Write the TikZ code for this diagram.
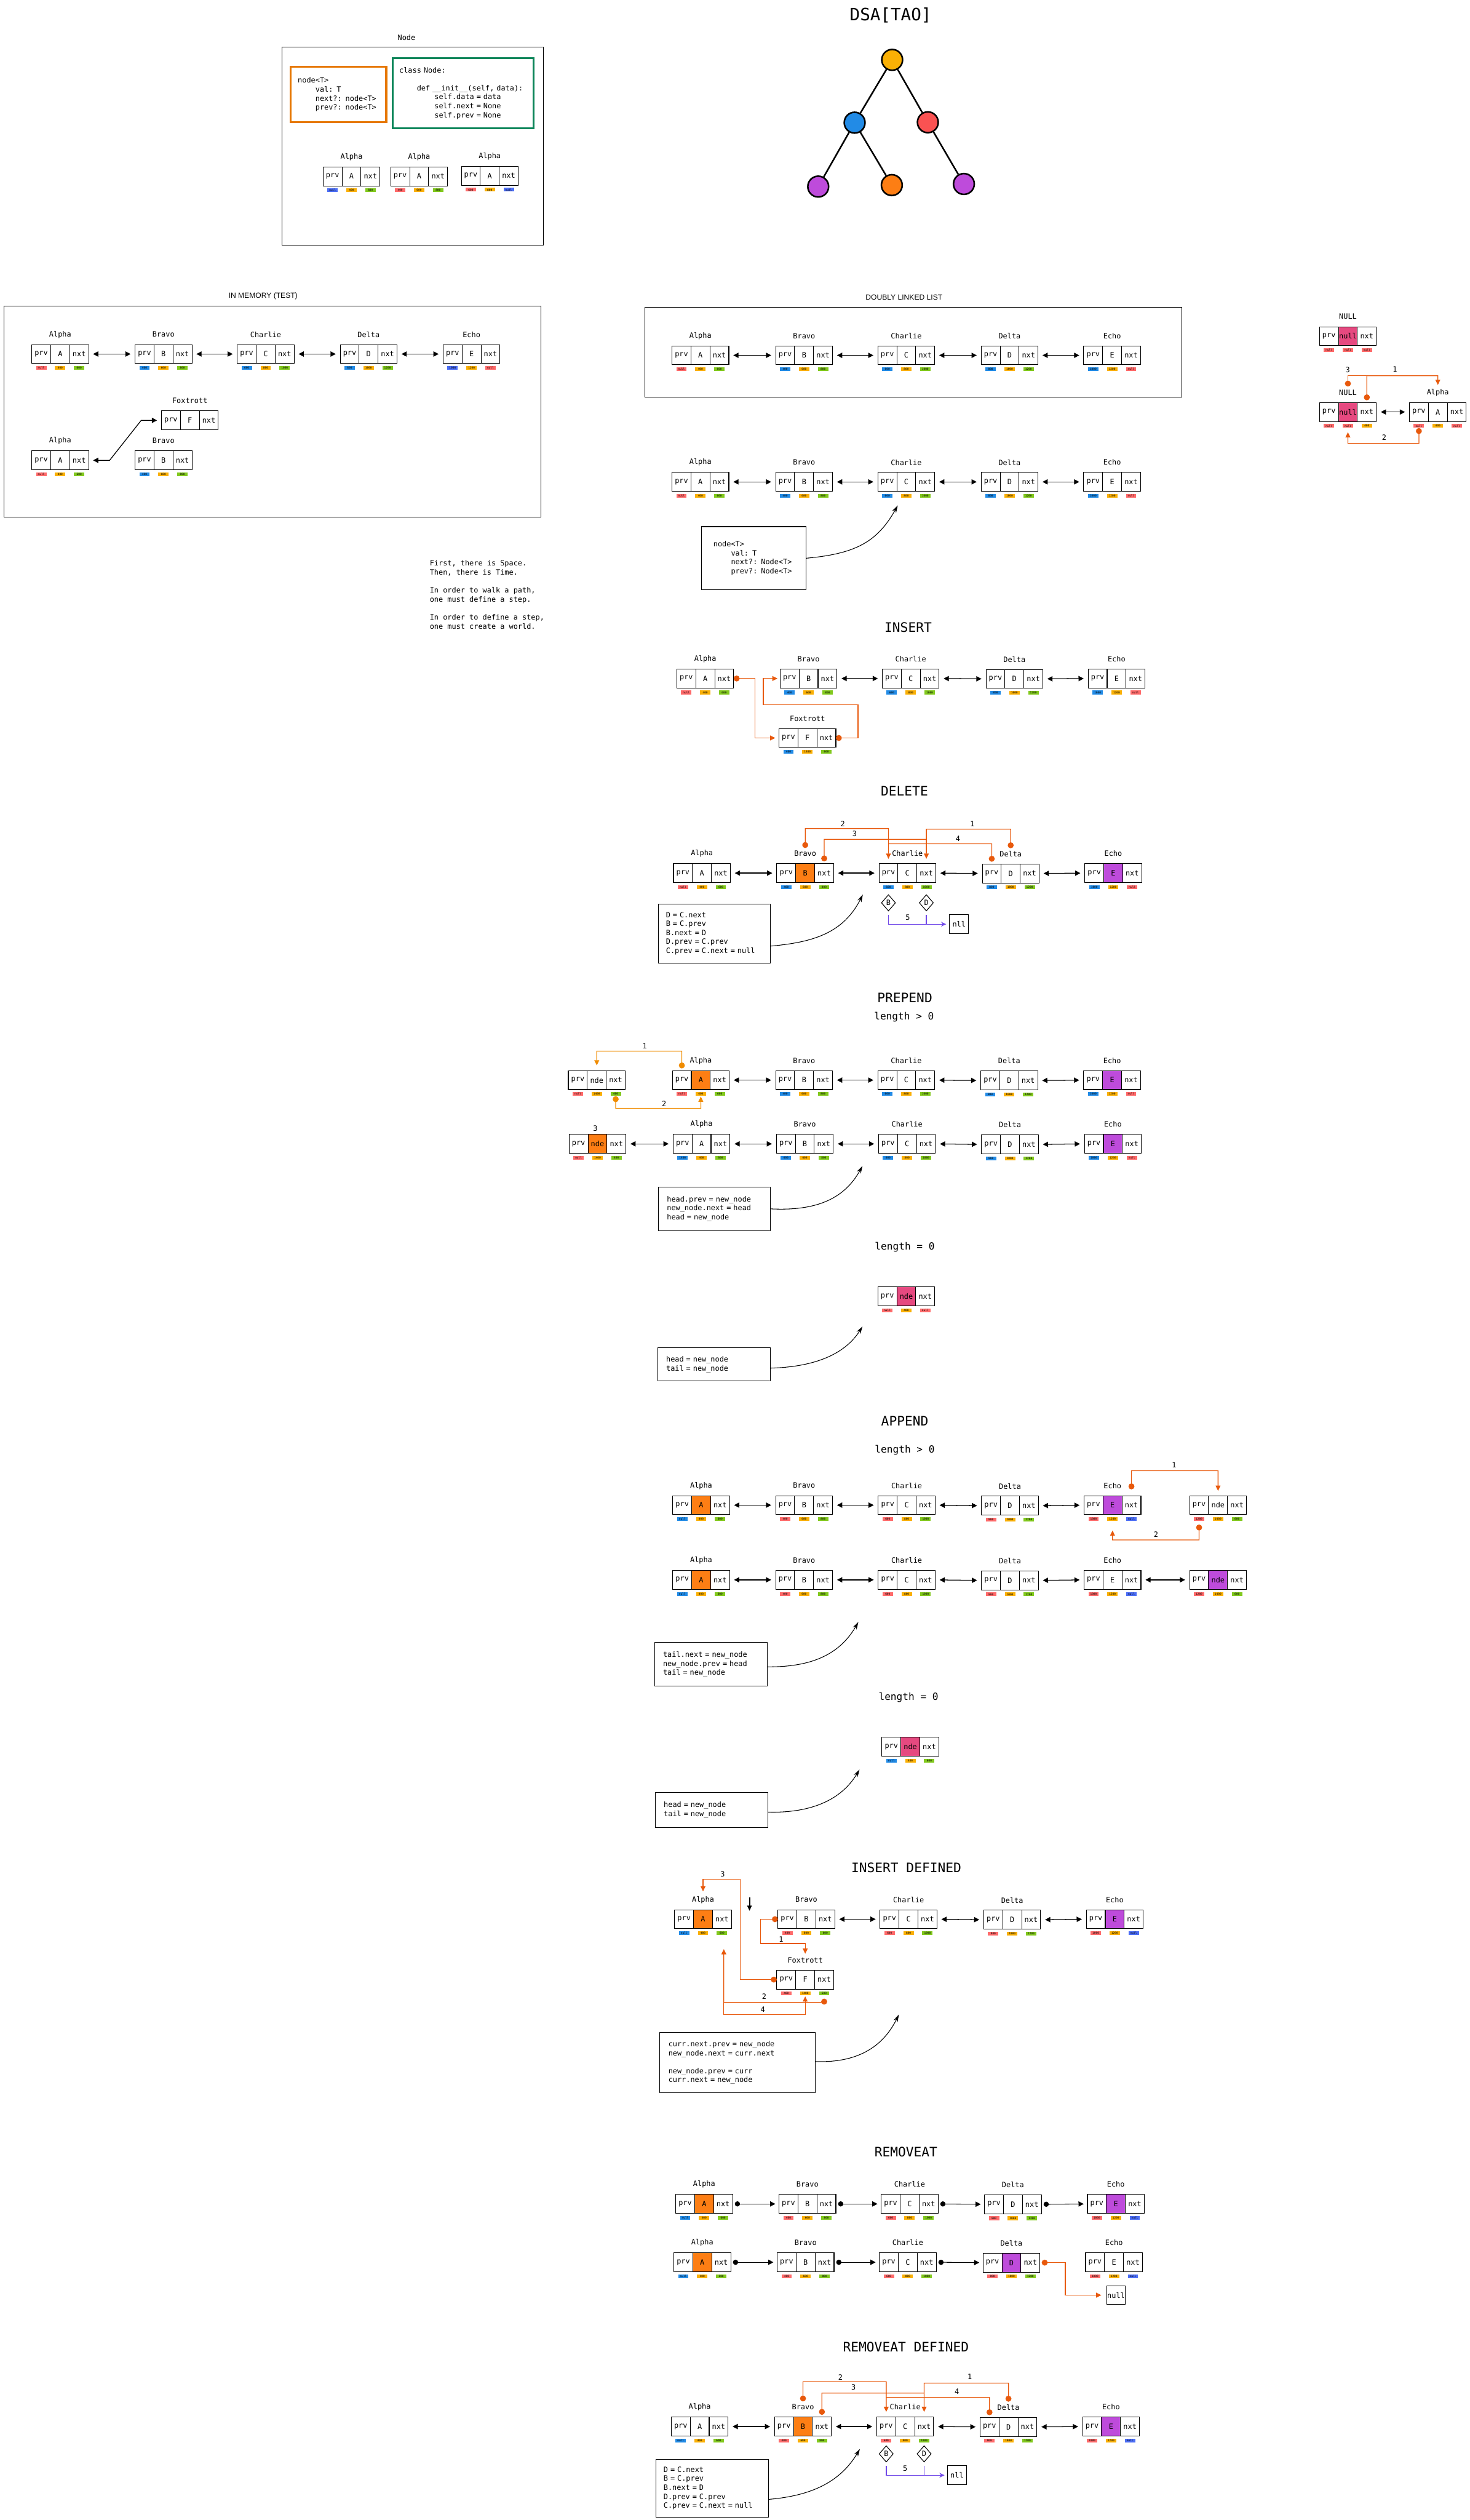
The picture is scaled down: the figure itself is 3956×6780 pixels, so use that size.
\documentclass[tikz,border=0pt]{standalone}
\usepackage{fontspec}
\setmainfont{DejaVu Sans Mono}
\newfontfamily\headsans{Liberation Sans}
\usetikzlibrary{arrows.meta,positioning,shapes.geometric}

\definecolor{tred}{HTML}{FF6B6B}
\definecolor{tyel}{HTML}{FAB005}
\definecolor{tgrn}{HTML}{82C91E}
\definecolor{tsky}{HTML}{228BE6}
\definecolor{tind}{HTML}{4C6EF5}
\definecolor{hlor}{HTML}{FD7E14}
\definecolor{hlpu}{HTML}{BE4BDB}
\definecolor{hlpk}{HTML}{E64980}
\definecolor{linkor}{HTML}{E8590C}
\definecolor{prepor}{HTML}{F08C00}
\definecolor{nullvi}{HTML}{7048E8}
\definecolor{boxor}{HTML}{E67700}
\definecolor{boxgr}{HTML}{0C8559}
\definecolor{treered}{HTML}{FA5252}

\tikzset{
  cell/.style={draw,line width=0.5pt,minimum width=5.1mm,minimum height=5.1mm,inner sep=0pt,outer sep=0pt,font=\fontsize{5.6}{6.7}\selectfont},
  lbl/.style={inner sep=0pt,font=\fontsize{5.6}{6.9}\selectfont},
  tag/.style={inner sep=0pt,minimum width=2.8mm,minimum height=1mm,font=\fontsize{2.1}{2.2}\selectfont},
  sect/.style={inner sep=0pt,font=\fontsize{10}{12}\selectfont},
  sub/.style={inner sep=0pt,font=\fontsize{7.6}{9}\selectfont},
  panel/.style={draw,line width=0.5pt},
  codebox/.style={draw,line width=0.5pt,anchor=north west,align=left,inner ysep=0pt,font=\fontsize{5.6}{6.85}\selectfont},
  dbl/.style={{Triangle[length=1.4mm,width=1.4mm]}-{Triangle[length=1.4mm,width=1.4mm]},line width=0.6pt,shorten <=1.2mm,shorten >=1.2mm},
  ptr/.style={{Circle[length=1.4mm]}-{Triangle[length=1.4mm,width=1.4mm]},line width=0.5pt,shorten <=0.6mm,shorten >=1mm},
  orlink/.style={color=linkor,line width=0.6pt,{Circle[length=1.6mm]}-{Triangle[length=1.4mm,width=1.3mm]}},
  orjoin/.style={color=linkor,line width=0.6pt,{Circle[length=1.6mm]}-},
  orhead/.style={color=linkor,line width=0.6pt,-{Triangle[length=1.4mm,width=1.3mm]}},
  vline/.style={color=nullvi,line width=0.6pt,-{Stealth[length=1.4mm,width=1.3mm]}},
  curvy/.style={line width=0.5pt,-{Stealth[length=2mm,width=1.2mm]}},
  dmd/.style={diamond,draw,line width=0.5pt,inner sep=0.3mm,minimum width=3.4mm,minimum height=4.4mm,font=\fontsize{5.6}{6.7}\selectfont},
  ball/.style={circle,draw,line width=1.2pt,minimum size=5.6mm,inner sep=0pt},
  twig/.style={line width=1.2pt}
}

\newcommand{\dll}[5]{%
  \node[cell,fill=#5] (#1-v) at (#2) {#4};
  \node[cell,left=0pt of #1-v] (#1-p) {prv};
  \node[cell,right=0pt of #1-v] (#1-n) {nxt};
  \if\relax\detokenize{#3}\relax\else
    \node[lbl] (#1-t) at ([yshift=2.7mm]#1-v.north) {#3};
  \fi}
\newcommand{\tags}[7]{%
  \node[tag,fill=#2] (#1-tp) at ([yshift=-1.2mm]#1-p.south) {#3};
  \node[tag,fill=#4] (#1-tv) at ([yshift=-1.2mm]#1-v.south) {#5};
  \node[tag,fill=#6] (#1-tn) at ([yshift=-1.2mm]#1-n.south) {#7};}

\begin{document}
\begin{tikzpicture}[x=0.1mm,y=-0.1mm]
  \useasboundingbox (0,0) rectangle (3956,6780);

  \node[inner sep=0pt,font=\fontsize{13}{15}\selectfont] (dsa) at (2397,41) {DSA[TAO]};
  \node[ball,fill=tyel] (t0) at (2401,161) {};
  \node[ball,fill=tsky] (t1) at (2300,330) {};
  \node[ball,fill=treered] (t2) at (2497,329) {};
  \node[ball,fill=hlpu] (t3) at (2202,502) {};
  \node[ball,fill=hlor] (t4) at (2400,498) {};
  \node[ball,fill=hlpu] (t5) at (2594,495) {};
  \draw[twig] (t0) -- (t1);
  \draw[twig] (t0) -- (t2);
  \draw[twig] (t1) -- (t3);
  \draw[twig] (t1) -- (t4);
  \draw[twig] (t2) -- (t5);

  \node[lbl] (nodeTitle) at (1094,101) {Node};
  \draw[panel] (759,127) rectangle (1462,659);
  \node[codebox,draw=boxor,line width=0.5mm,inner xsep=2mm,text width=21.8mm,minimum height=14.9mm] (tsBox) at (779,177)
    {node<T>\\\phantom{0000}val: T\\\phantom{0000}next?: node<T>\\\phantom{0000}prev?: node<T>};
  \node[codebox,draw=boxgr,line width=0.5mm,inner xsep=1.8mm,text width=34.4mm,minimum height=18.8mm] (pyBox) at (1054,154)
    {class Node:\\\mbox{}\\\phantom{0000}def \_\_init\_\_(self, data):\\\phantom{00000000}self.data = data\\\phantom{00000000}self.next = None\\\phantom{00000000}self.prev = None};
  \dll{ndA1}{946,474.5}{Alpha}{A}{white}
  \tags{ndA1}{tind}{null}{tyel}{400}{tgrn}{600}
  \dll{ndA2}{1128,474.5}{Alpha}{A}{white}
  \tags{ndA2}{tred}{400}{tyel}{600}{tgrn}{800}
  \dll{ndA3}{1318,473}{Alpha}{A}{white}
  \tags{ndA3}{tred}{600}{tyel}{800}{tind}{null}

  \node[inner sep=0pt,font=\headsans\fontsize{5.7}{7}\selectfont] (memTitle) at (708,796) {IN MEMORY (TEST)};
  \draw[panel] (11,824) rectangle (1456,1391);
  \dll{memA}{162,952.5}{Alpha}{A}{white}
  \tags{memA}{tred}{null}{tyel}{400}{tgrn}{600}
  \dll{memB}{440,952.5}{Bravo}{B}{white}
  \tags{memB}{tsky}{400}{tyel}{600}{tgrn}{800}
  \dll{memC}{715,952.5}{Charlie}{C}{white}
  \tags{memC}{tsky}{600}{tyel}{800}{tgrn}{1000}
  \dll{memD}{992,952.5}{Delta}{D}{white}
  \tags{memD}{tsky}{800}{tyel}{1000}{tgrn}{1200}
  \dll{memE}{1269,952.5}{Echo}{E}{white}
  \tags{memE}{tind}{1000}{tyel}{1200}{tred}{null}
  \draw[dbl] (memA-n.east) -- (memB-p.west);
  \draw[dbl] (memB-n.east) -- (memC-p.west);
  \draw[dbl] (memC-n.east) -- (memD-p.west);
  \draw[dbl] (memD-n.east) -- (memE-p.west);
  \dll{memF}{511,1131}{Foxtrott}{F}{white}
  \dll{memA2}{162,1238.5}{Alpha}{A}{white}
  \tags{memA2}{tred}{null}{tyel}{400}{tgrn}{600}
  \dll{memB2}{440,1238.5}{Bravo}{B}{white}
  \tags{memB2}{tsky}{400}{tyel}{600}{tgrn}{800}
  \draw[dbl] (memA2-n.east) -- (295,1238.5) -- (380,1131) -- (memF-p.west);

  \node[lbl,anchor=north west,align=left] (motto) at (1156,1507)
    {First, there is Space.\\Then, there is Time.\\\mbox{}\\In order to walk a path,\\one must define a step.\\\mbox{}\\In order to define a step,\\one must create a world.};

  \node[inner sep=0pt,font=\headsans\fontsize{5.7}{7}\selectfont] (dllTitle) at (2433,800) {DOUBLY LINKED LIST};
  \draw[panel] (1735,827) rectangle (3181,1068);
  \dll{dllA}{1885,956}{Alpha}{A}{white}
  \tags{dllA}{tred}{null}{tyel}{400}{tgrn}{600}
  \dll{dllB}{2164,956}{Bravo}{B}{white}
  \tags{dllB}{tsky}{400}{tyel}{600}{tgrn}{800}
  \dll{dllC}{2439,956}{Charlie}{C}{white}
  \tags{dllC}{tsky}{600}{tyel}{800}{tgrn}{1000}
  \dll{dllD}{2717,956}{Delta}{D}{white}
  \tags{dllD}{tsky}{800}{tyel}{1000}{tgrn}{1200}
  \dll{dllE}{2993,956}{Echo}{E}{white}
  \tags{dllE}{tsky}{1000}{tyel}{1200}{tred}{null}
  \draw[dbl] (dllA-n.east) -- (dllB-p.west);
  \draw[dbl] (dllB-n.east) -- (dllC-p.west);
  \draw[dbl] (dllC-n.east) -- (dllD-p.west);
  \draw[dbl] (dllD-n.east) -- (dllE-p.west);

  \dll{lstA}{1885,1296.5}{Alpha}{A}{white}
  \tags{lstA}{tred}{null}{tyel}{400}{tgrn}{600}
  \dll{lstB}{2164,1296.5}{Bravo}{B}{white}
  \tags{lstB}{tsky}{400}{tyel}{600}{tgrn}{800}
  \dll{lstC}{2439,1296.5}{Charlie}{C}{white}
  \tags{lstC}{tsky}{600}{tyel}{800}{tgrn}{1000}
  \dll{lstD}{2717,1296.5}{Delta}{D}{white}
  \tags{lstD}{tsky}{800}{tyel}{1000}{tgrn}{1200}
  \dll{lstE}{2993,1296.5}{Echo}{E}{white}
  \tags{lstE}{tsky}{1000}{tyel}{1200}{tred}{null}
  \draw[dbl] (lstA-n.east) -- (lstB-p.west);
  \draw[dbl] (lstB-n.east) -- (lstC-p.west);
  \draw[dbl] (lstC-n.east) -- (lstD-p.west);
  \draw[dbl] (lstD-n.east) -- (lstE-p.west);
  \node[codebox,inner xsep=3.2mm,text width=21.7mm,minimum height=17mm] (lstNote) at (1887,1416)
    {node<T>\\\phantom{0000}val: T\\\phantom{0000}next?: Node<T>\\\phantom{0000}prev?: Node<T>};
  \coordinate (lstTip) at (2416,1360);
  \draw[curvy] (lstNote.east) .. controls (2300,1490) and (2360,1460) .. (lstTip);

  \dll{nul1}{3627.5,904.5}{NULL}{null}{hlpk}
  \tags{nul1}{tred}{null}{tred}{null}{tred}{null}
  \dll{nul2}{3627.5,1108.5}{NULL}{null}{hlpk}
  \tags{nul2}{tred}{null}{tred}{null}{tyel}{400}
  \dll{nulA}{3869.5,1108.5}{Alpha}{A}{white}
  \tags{nulA}{tred}{null}{tyel}{400}{tred}{null}
  \draw[dbl] (nul2-n.east) -- (nulA-p.west);
  \draw[orlink] ([yshift=0.6mm]nul2-n.north) -- (3678.5,1011) -- (3869.5,1011) -- ([yshift=1mm]nulA-t.north);
  \draw[orjoin] ([yshift=0.8mm]nul2-t.north) -- (3627.5,1011) -- (3678.5,1011);
  \draw[orlink] (nulA-tp.south) -- (3818.5,1193) -- (3627.5,1193) -- ([yshift=-1.1mm]nul2-tv.south);
  \node[lbl] (nulS3) at (3627,995) {3};
  \node[lbl] (nulS1) at (3754,993) {1};
  \node[lbl] (nulS2) at (3725,1177) {2};

  \node[sect] (insTitle) at (2444,1688) {INSERT};
  \dll{insA}{1898,1825.5}{Alpha}{A}{white}
  \tags{insA}{tred}{null}{tyel}{400}{tgrn}{600}
  \dll{insB}{2176,1825.5}{Bravo}{B}{white}
  \tags{insB}{tsky}{400}{tyel}{600}{tgrn}{800}
  \dll{insC}{2451,1825.5}{Charlie}{C}{white}
  \tags{insC}{tsky}{600}{tyel}{800}{tgrn}{1000}
  \dll{insD}{2730,1826.5}{Delta}{D}{white}
  \tags{insD}{tsky}{800}{tyel}{1000}{tgrn}{1200}
  \dll{insE}{3005,1825.5}{Echo}{E}{white}
  \tags{insE}{tsky}{1000}{tyel}{1200}{tred}{null}
  \dll{insF}{2173,1985.5}{Foxtrott}{F}{white}
  \tags{insF}{tsky}{400}{tyel}{1400}{tgrn}{600}
  \draw[dbl] (insB-n.east) -- (insC-p.west);
  \draw[dbl] (insC-n.east) -- (insD-p.west);
  \draw[dbl] (insD-n.east) -- (insE-p.west);
  \draw[orlink,shorten >=1mm] (insA-n.east) -- (2032,1825.5) -- (2032,1985.5) -- (insF-p.west);
  \draw[orlink,shorten >=0.7mm] (insF-n.east) -- (2309,1985.5) -- (2309,1896) -- (2054,1896) -- (2054,1825.5) -- (insB-p.west);

  \node[sect] (delTitle) at (2434,2128) {DELETE};
  \dll{delA}{1889,2349}{Alpha}{A}{white}
  \tags{delA}{tred}{null}{tyel}{400}{tgrn}{600}
  \dll{delB}{2167,2349}{Bravo}{B}{hlor}
  \tags{delB}{tsky}{400}{tyel}{600}{tgrn}{800}
  \dll{delC}{2442,2349}{Charlie}{C}{white}
  \tags{delC}{tsky}{600}{tyel}{800}{tgrn}{1000}
  \dll{delD}{2720,2350}{Delta}{D}{white}
  \tags{delD}{tsky}{800}{tyel}{1000}{tgrn}{1200}
  \dll{delE}{2996,2349}{Echo}{E}{hlpu}
  \tags{delE}{tsky}{1000}{tyel}{1200}{tred}{null}
  \draw[dbl] (delA-n.east) -- (delB-p.west);
  \draw[dbl] (delB-n.east) -- (delC-p.west);
  \draw[dbl] (delC-n.east) -- (delD-p.west);
  \draw[dbl] (delD-n.east) -- (delE-p.west);
  \draw[orlink] ([yshift=0.7mm]delB-t.north) -- (2167,2229) -- (2391,2229) -- ([yshift=1.3mm]delC-p.north);
  \draw[orjoin] ([yshift=0.6mm]delB-n.north) -- (2218,2258) -- (2493,2258);
  \draw[orlink] ([yshift=0.7mm]delD-t.north) -- (2720,2231) -- (2493,2231) -- ([yshift=1.3mm]delC-n.north);
  \draw[orjoin] ([yshift=0.6mm]delD-p.north) -- (2669,2270) -- (2391,2270);
  \node[lbl] (delS2) at (2268,2216) {2};
  \node[lbl] (delS3) at (2300,2243) {3};
  \node[lbl] (delS1) at (2617,2216) {1};
  \node[lbl] (delS4) at (2578,2256) {4};
  \node[dmd] (delDB) at (2391,2429) {B};
  \node[dmd] (delDD) at (2493,2429) {D};
  \node[cell] (delNll) at (2581,2486.5) {nll};
  \draw[vline,shorten >=0.9mm] ([yshift=-1mm]delDB.south) -- (2391,2486.5) -- (delNll.west);
  \draw[vline,-] ([yshift=-1mm]delDD.south) -- (2493,2486.5);
  \node[lbl] (delS5) at (2443,2469) {5};
  \node[codebox,inner xsep=2mm,text width=26.1mm,minimum height=15.9mm] (delCode) at (1771.5,2431)
    {D = C.next\\B = C.prev\\B.next = D\\D.prev = C.prev\\C.prev = C.next = null};
  \coordinate (delTip) at (2322,2407);
  \draw[curvy] ([yshift=-3.4mm]delCode.east) .. controls (2190,2535) and (2270,2510) .. (delTip);

  \node[sect] (preTitle) at (2435,2685) {PREPEND};
  \node[sub] (preSub1) at (2433,2737) {length > 0};
  \dll{preN}{1606,2906}{}{nde}{white}
  \tags{preN}{tred}{null}{tyel}{1400}{tgrn}{400}
  \dll{preA}{1886,2906}{Alpha}{A}{hlor}
  \tags{preA}{tred}{null}{tyel}{400}{tgrn}{600}
  \dll{preB}{2164,2906}{Bravo}{B}{white}
  \tags{preB}{tsky}{400}{tyel}{600}{tgrn}{800}
  \dll{preC}{2439,2906}{Charlie}{C}{white}
  \tags{preC}{tsky}{600}{tyel}{800}{tgrn}{1000}
  \dll{preD}{2716,2907}{Delta}{D}{white}
  \tags{preD}{tsky}{800}{tyel}{1000}{tgrn}{1200}
  \dll{preE}{2993,2906}{Echo}{E}{hlpu}
  \tags{preE}{tsky}{1000}{tyel}{1200}{tred}{null}
  \draw[dbl] (preA-n.east) -- (preB-p.west);
  \draw[dbl] (preB-n.east) -- (preC-p.west);
  \draw[dbl] (preC-n.east) -- (preD-p.west);
  \draw[dbl] (preD-n.east) -- (preE-p.west);
  \draw[orlink,color=prepor] ([yshift=0.6mm]preA-p.north) -- (1835,2828) -- (1606,2828) -- ([yshift=1.4mm]preN-v.north);
  \draw[orlink,color=prepor] (preN-tn.south) -- (1657,2982) -- (1886,2982) -- ([yshift=-0.1mm]preA-tv.south);
  \node[lbl] (preS1) at (1735,2814) {1};
  \node[lbl] (preS2) at (1787,2969) {2};
  \dll{pre2N}{1608,3077.5}{}{nde}{hlor}
  \tags{pre2N}{tred}{null}{tyel}{1400}{tgrn}{400}
  \node[lbl] (preS3) at (1602,3036) {3};
  \dll{pre2A}{1888,3077.5}{Alpha}{A}{white}
  \tags{pre2A}{tsky}{1400}{tyel}{400}{tgrn}{600}
  \dll{pre2B}{2166,3077.5}{Bravo}{B}{white}
  \tags{pre2B}{tsky}{400}{tyel}{600}{tgrn}{800}
  \dll{pre2C}{2441,3077.5}{Charlie}{C}{white}
  \tags{pre2C}{tsky}{600}{tyel}{800}{tgrn}{1000}
  \dll{pre2D}{2718,3079}{Delta}{D}{white}
  \tags{pre2D}{tsky}{800}{tyel}{1000}{tgrn}{1200}
  \dll{pre2E}{2995,3077.5}{Echo}{E}{hlpu}
  \tags{pre2E}{tsky}{1000}{tyel}{1200}{tred}{null}
  \draw[dbl] (pre2N-n.east) -- (pre2A-p.west);
  \draw[dbl] (pre2A-n.east) -- (pre2B-p.west);
  \draw[dbl] (pre2B-n.east) -- (pre2C-p.west);
  \draw[dbl] (pre2C-n.east) -- (pre2D-p.west);
  \draw[dbl] (pre2D-n.east) -- (pre2E-p.west);
  \node[codebox,inner xsep=2.3mm,text width=25.6mm,minimum height=11.7mm] (preCode) at (1771,3193)
    {head.prev = new\_node\\new\_node.next = head\\head = new\_node};
  \coordinate (preTip) at (2321,3137);
  \draw[curvy] (preCode.east) .. controls (2190,3258) and (2270,3230) .. (preTip);
  \node[sub] (preSub0) at (2435,3356) {length = 0};
  \dll{pre0}{2439,3487.5}{}{nde}{hlpk}
  \tags{pre0}{tred}{null}{tyel}{400}{tred}{null}
  \node[codebox,inner xsep=2.3mm,text width=25.7mm,minimum height=9mm] (pre0Code) at (1769,3625)
    {head = new\_node\\tail = new\_node};
  \coordinate (pre0Tip) at (2321,3569);
  \draw[curvy] ([yshift=-1mm]pre0Code.east) .. controls (2180,3678) and (2270,3650) .. (pre0Tip);

  \node[sect] (appTitle) at (2435,3823.5) {APPEND};
  \node[sub] (appSub1) at (2435,3901) {length > 0};
  \dll{appA}{1887,4049.5}{Alpha}{A}{hlor}
  \tags{appA}{tsky}{null}{tyel}{400}{tgrn}{600}
  \dll{appB}{2164,4049.5}{Bravo}{B}{white}
  \tags{appB}{tred}{400}{tyel}{600}{tgrn}{800}
  \dll{appC}{2440,4049.5}{Charlie}{C}{white}
  \tags{appC}{tred}{600}{tyel}{800}{tgrn}{1000}
  \dll{appD}{2718,4051}{Delta}{D}{white}
  \tags{appD}{tred}{800}{tyel}{1000}{tgrn}{1200}
  \dll{appE}{2994,4049.5}{Echo}{E}{hlpu}
  \tags{appE}{tred}{1000}{tyel}{1200}{tind}{null}
  \dll{appN}{3278,4049.5}{}{nde}{white}
  \tags{appN}{tred}{1200}{tyel}{1400}{tgrn}{600}
  \draw[dbl] (appA-n.east) -- (appB-p.west);
  \draw[dbl] (appB-n.east) -- (appC-p.west);
  \draw[dbl] (appC-n.east) -- (appD-p.west);
  \draw[dbl] (appD-n.east) -- (appE-p.west);
  \draw[orlink] ([yshift=1.7mm]appE-n.north) -- (3045,3957) -- (3278,3957) -- ([yshift=1.3mm]appN-v.north);
  \draw[orlink] ([yshift=-0.9mm]appN-tp.south) -- (3227,4143) -- (2994,4143) -- ([yshift=-2.5mm]appE-tv.south);
  \node[lbl] (appS1) at (3160,3941) {1};
  \node[lbl] (appS2) at (3111,4129) {2};
  \dll{app2A}{1887,4250.5}{Alpha}{A}{hlor}
  \tags{app2A}{tsky}{null}{tyel}{400}{tgrn}{600}
  \dll{app2B}{2164,4250.5}{Bravo}{B}{white}
  \tags{app2B}{tred}{400}{tyel}{600}{tgrn}{800}
  \dll{app2C}{2440,4250.5}{Charlie}{C}{white}
  \tags{app2C}{tred}{600}{tyel}{800}{tgrn}{1000}
  \dll{app2D}{2718,4252}{Delta}{D}{white}
  \tags{app2D}{tred}{800}{tyel}{1000}{tgrn}{1200}
  \dll{app2E}{2994,4250.5}{Echo}{E}{white}
  \tags{app2E}{tred}{1000}{tyel}{1200}{tind}{null}
  \dll{app2N}{3278,4250.5}{}{nde}{hlpu}
  \tags{app2N}{tred}{1200}{tyel}{1400}{tgrn}{600}
  \draw[dbl] (app2A-n.east) -- (app2B-p.west);
  \draw[dbl] (app2B-n.east) -- (app2C-p.west);
  \draw[dbl] (app2C-n.east) -- (app2D-p.west);
  \draw[dbl] (app2D-n.east) -- (app2E-p.west);
  \draw[dbl] (app2E-n.east) -- (app2N-p.west);
  \node[codebox,inner xsep=2.25mm,text width=25.8mm,minimum height=11.75mm] (appCode) at (1761,4418)
    {tail.next = new\_node\\new\_node.prev = head\\tail = new\_node};
  \coordinate (appTip) at (2310,4364);
  \draw[curvy] ([yshift=-0.7mm]appCode.east) .. controls (2170,4485) and (2255,4460) .. (appTip);
  \node[sub] (appSub0) at (2445,4567) {length = 0};
  \dll{app0}{2450,4699.5}{}{nde}{hlpk}
  \tags{app0}{tsky}{null}{tyel}{400}{tgrn}{600}
  \node[codebox,inner xsep=2.25mm,text width=25.8mm,minimum height=9.5mm] (app0Code) at (1763,4821)
    {head = new\_node\\tail = new\_node};
  \coordinate (app0Tip) at (2313,4761);
  \draw[curvy] ([yshift=-0.6mm]app0Code.east) .. controls (2170,4878) and (2260,4850) .. (app0Tip);

  \node[sect] (idTitle) at (2439,5025.5) {INSERT DEFINED};
  \dll{idA}{1892,5163.5}{Alpha}{A}{hlor}
  \tags{idA}{tsky}{null}{tyel}{400}{tgrn}{600}
  \dll{idB}{2170,5163.5}{Bravo}{B}{white}
  \tags{idB}{tred}{400}{tyel}{600}{tgrn}{800}
  \dll{idC}{2445,5163.5}{Charlie}{C}{white}
  \tags{idC}{tred}{600}{tyel}{800}{tgrn}{1000}
  \dll{idD}{2724,5165}{Delta}{D}{white}
  \tags{idD}{tred}{800}{tyel}{1000}{tgrn}{1200}
  \dll{idE}{3000,5163.5}{Echo}{E}{hlpu}
  \tags{idE}{tred}{1000}{tyel}{1200}{tind}{null}
  \dll{idF}{2167,5326}{Foxtrott}{F}{white}
  \tags{idF}{tred}{400}{tyel}{1400}{tgrn}{600}
  \draw[dbl] (idB-n.east) -- (idC-p.west);
  \draw[dbl] (idC-n.east) -- (idD-p.west);
  \draw[dbl] (idD-n.east) -- (idE-p.west);
  \coordinate (idCur) at (2017,5105);
  \coordinate (idCurTip) at (2017,5141);
  \draw[line width=0.9pt,-{Triangle[length=1.4mm,width=1.2mm]}] (idCur) -- (idCurTip);
  \draw[orlink] (idF-p.west) -- (1992,5326) -- (1992,5056) -- (1892,5056) -- ([yshift=1.2mm]idA-t.north);
  \draw[orlink] (idB-p.west) -- (2047,5163.5) -- (2047,5229) -- (2167,5229) -- ([yshift=0.9mm]idF-t.north);
  \coordinate (idBelowA) at (1948,5244);
  \coordinate (idJoin) at (1948,5387.6);
  \draw[orlink] ([yshift=-0.8mm]idF-tn.south) -- (2218,5387.6) -- (idJoin) -- (idBelowA);
  \draw[orhead] (idJoin) -- (1948,5419.7) -- (2167,5419.7) -- ([yshift=-0.2mm]idF-tv.south);
  \node[lbl] (idS3) at (1945,5043) {3};
  \node[lbl] (idS1) at (2102,5217.6) {1};
  \node[lbl] (idS2) at (2056.6,5371.6) {2};
  \node[lbl] (idS4) at (2053,5407) {4};
  \node[codebox,inner xsep=2.3mm,text width=37.2mm,minimum height=16.1mm] (idCode) at (1775,5468)
    {curr.next.prev = new\_node\\new\_node.next = curr.next\\\mbox{}\\new\_node.prev = curr\\curr.next = new\_node};
  \coordinate (idTip) at (2419,5420);
  \draw[curvy] ([yshift=0.3mm]idCode.east) .. controls (2290,5550) and (2370,5520) .. (idTip);

  \node[sect] (raTitle) at (2438,5789.6) {REMOVEAT};
  \dll{raA}{1895,5929.5}{Alpha}{A}{hlor}
  \tags{raA}{tsky}{null}{tyel}{400}{tgrn}{600}
  \dll{raB}{2173,5929.5}{Bravo}{B}{white}
  \tags{raB}{tred}{400}{tyel}{600}{tgrn}{800}
  \dll{raC}{2448,5929.5}{Charlie}{C}{white}
  \tags{raC}{tred}{600}{tyel}{800}{tgrn}{1000}
  \dll{raD}{2726,5930.5}{Delta}{D}{white}
  \tags{raD}{tred}{800}{tyel}{1000}{tgrn}{1200}
  \dll{raE}{3003,5929.5}{Echo}{E}{hlpu}
  \tags{raE}{tred}{1000}{tyel}{1200}{tind}{null}
  \draw[ptr] (raA-n.east) -- (raB-p.west);
  \draw[ptr] (raB-n.east) -- (raC-p.west);
  \draw[ptr] (raC-n.east) -- (raD-p.west);
  \draw[ptr] (raD-n.east) -- (raE-p.west);
  \dll{ra2A}{1890,6086.5}{Alpha}{A}{hlor}
  \tags{ra2A}{tsky}{null}{tyel}{400}{tgrn}{600}
  \dll{ra2B}{2168,6086.5}{Bravo}{B}{white}
  \tags{ra2B}{tred}{400}{tyel}{600}{tgrn}{800}
  \dll{ra2C}{2443,6086.5}{Charlie}{C}{white}
  \tags{ra2C}{tred}{600}{tyel}{800}{tgrn}{1000}
  \dll{ra2D}{2722,6087.5}{Delta}{D}{hlpu}
  \tags{ra2D}{tred}{800}{tyel}{1000}{tgrn}{1200}
  \dll{ra2E}{2998,6086.5}{Echo}{E}{white}
  \tags{ra2E}{tred}{1000}{tyel}{1200}{tind}{null}
  \draw[ptr] (ra2A-n.east) -- (ra2B-p.west);
  \draw[ptr] (ra2B-n.east) -- (ra2C-p.west);
  \draw[ptr] (ra2C-n.east) -- (ra2D-p.west);
  \node[cell] (ra2Null) at (3003.5,6175) {null};
  \draw[orlink,shorten <=0.5mm,shorten >=1.4mm] (ra2D-n.east) -- (2867,6087.5) -- (2867,6175) -- (ra2Null.west);

  \node[sect] (rdTitle) at (2438,6315) {REMOVEAT DEFINED};
  \dll{rdA}{1883,6528.5}{Alpha}{A}{white}
  \tags{rdA}{tsky}{null}{tyel}{400}{tgrn}{600}
  \dll{rdB}{2161,6528.5}{Bravo}{B}{hlor}
  \tags{rdB}{tred}{400}{tyel}{600}{tgrn}{800}
  \dll{rdC}{2436,6528.5}{Charlie}{C}{white}
  \tags{rdC}{tred}{600}{tyel}{800}{tgrn}{1000}
  \dll{rdD}{2714,6529.5}{Delta}{D}{white}
  \tags{rdD}{tred}{800}{tyel}{1000}{tgrn}{1200}
  \dll{rdE}{2990,6528.5}{Echo}{E}{hlpu}
  \tags{rdE}{tred}{1000}{tyel}{1200}{tind}{null}
  \draw[dbl] (rdA-n.east) -- (rdB-p.west);
  \draw[dbl] (rdB-n.east) -- (rdC-p.west);
  \draw[dbl] (rdC-n.east) -- (rdD-p.west);
  \draw[dbl] (rdD-n.east) -- (rdE-p.west);
  \draw[orlink] ([yshift=0.7mm]rdB-t.north) -- (2161,6408) -- (2385,6408) -- ([yshift=1.4mm]rdC-p.north);
  \draw[orjoin] ([yshift=0.6mm]rdB-n.north) -- (2212,6438.7) -- (2487,6438.7);
  \draw[orlink] ([yshift=0.7mm]rdD-t.north) -- (2714,6411.7) -- (2487,6411.7) -- ([yshift=1.4mm]rdC-n.north);
  \draw[orjoin] ([yshift=0.6mm]rdD-p.north) -- (2663,6450) -- (2385,6450);
  \node[lbl] (rdS2) at (2262,6396) {2};
  \node[lbl] (rdS3) at (2297,6423) {3};
  \node[lbl] (rdS1) at (2610,6395) {1};
  \node[lbl] (rdS4) at (2575,6435) {4};
  \node[dmd] (rdDB) at (2385,6602) {B};
  \node[dmd] (rdDD) at (2487,6602) {D};
  \node[cell] (rdNll) at (2575.5,6659.5) {nll};
  \draw[vline,shorten >=0.8mm] ([yshift=-1mm]rdDB.south) -- (2385,6659.5) -- (rdNll.west);
  \draw[vline,-] ([yshift=-1mm]rdDD.south) -- (2487,6659.5);
  \node[lbl] (rdS5) at (2436,6641.6) {5};
  \node[codebox,inner xsep=2.1mm,text width=26.1mm,minimum height=15.5mm] (rdCode) at (1764,6616)
    {D = C.next\\B = C.prev\\B.next = D\\D.prev = C.prev\\C.prev = C.next = null};
  \coordinate (rdTip) at (2314,6589);
  \draw[curvy] ([yshift=-3mm]rdCode.east) .. controls (2180,6715) and (2260,6680) .. (rdTip);
\end{tikzpicture}
\end{document}
